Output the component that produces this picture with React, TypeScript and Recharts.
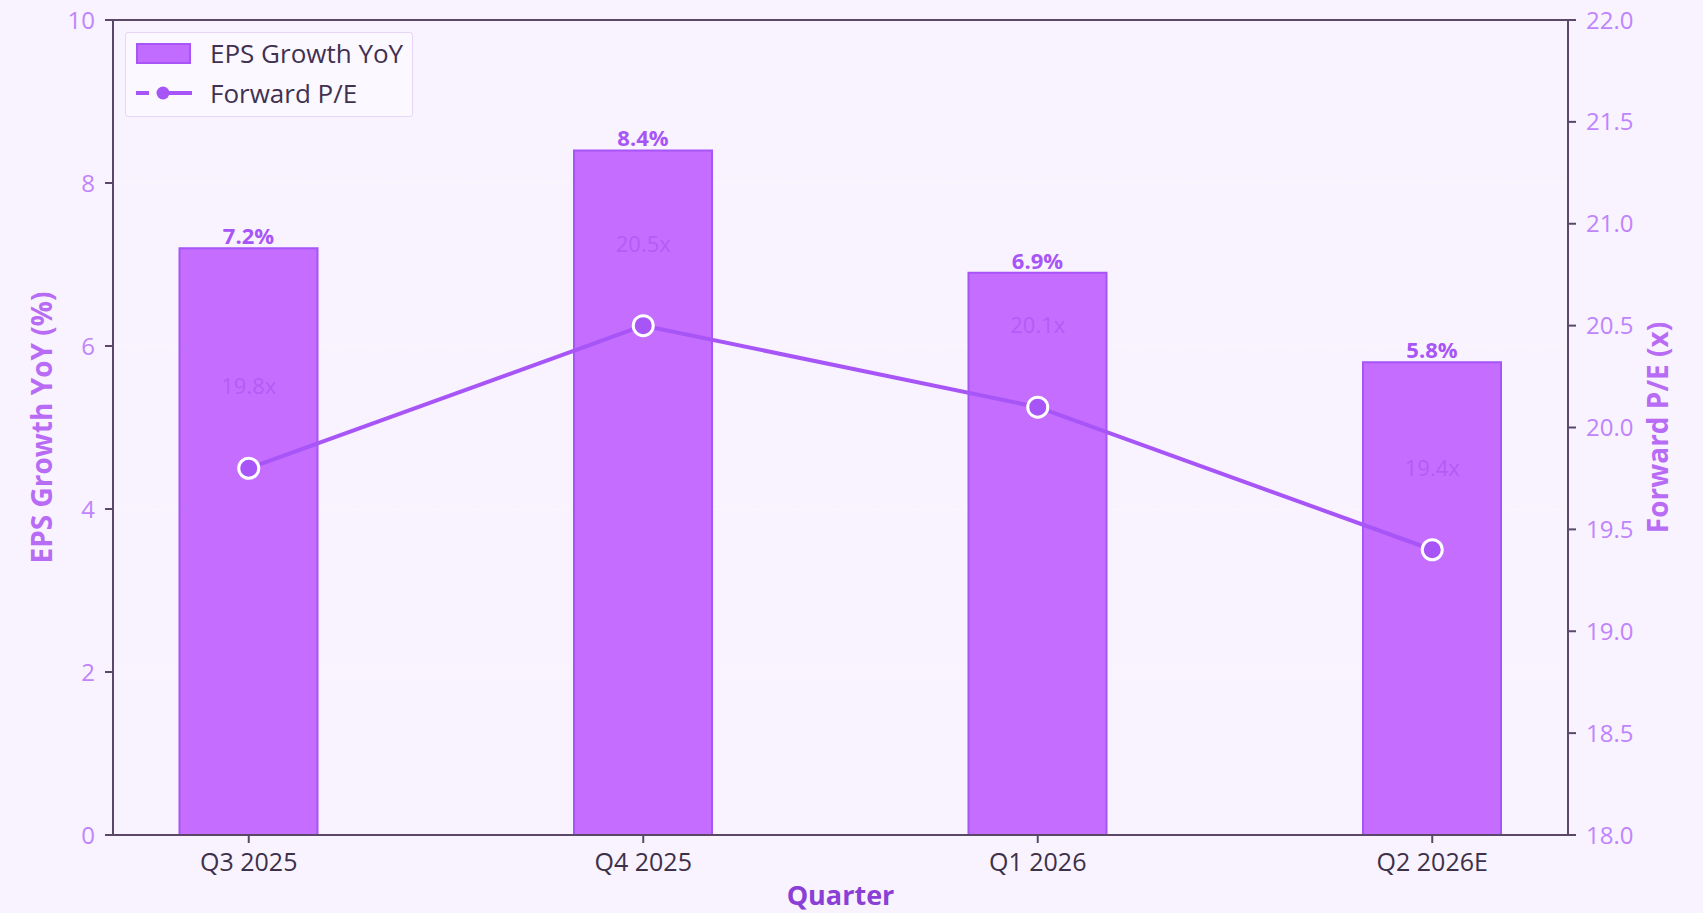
import {
  ComposedChart,
  CartesianGrid,
  XAxis,
  YAxis,
  Bar,
  Line,
  LabelList,
  Legend,
  ReferenceLine,
} from "recharts";

const quarters = ["Q3 2025", "Q4 2025", "Q1 2026", "Q2 2026E"];
const epsGrowth = [7.2, 8.4, 6.9, 5.8];
const forwardPE = [19.8, 20.5, 20.1, 19.4];
const leftTicks = [0, 2, 4, 6, 8, 10];
const rightTicks = [18, 18.5, 19, 19.5, 20, 20.5, 21, 21.5, 22];

const data = quarters.map((quarter, i) => ({
  quarter,
  eps: epsGrowth[i],
  pe: forwardPE[i],
}));

const BG = "#f8f3fe";
const AXIS = "#5b4868";
const PURPLE = "#a855f7";
const LIGHT = "#c084fc";
const FONT = "'Open Sans', sans-serif";

const LegendBox = () => (
  <div
    style={{
      width: 288,
      height: 85,
      boxSizing: "border-box",
      border: "1px solid #e6d6f7",
      borderRadius: 3,
      background: "rgba(252,249,255,0.8)",
      fontFamily: FONT,
      fontSize: 26,
      color: "#3f3150",
      position: "relative",
    }}
  >
    <div style={{ position: "absolute", left: 10, top: 10, width: 55, height: 21, background: "#c26cff", border: `2px solid ${PURPLE}`, boxSizing: "border-box" }} />
    <div style={{ position: "absolute", left: 84, top: 20, transform: "translateY(-50%)", whiteSpace: "nowrap" }}>EPS Growth YoY</div>
    <svg style={{ position: "absolute", left: 10, top: 50 }} width={56} height={20}>
      <line x1={0} y1={10} x2={56} y2={10} stroke={PURPLE} strokeWidth={4} strokeDasharray="13 17 26" />
      <circle cx={27} cy={10} r={6.5} fill={PURPLE} />
    </svg>
    <div style={{ position: "absolute", left: 84, top: 60, transform: "translateY(-50%)", whiteSpace: "nowrap" }}>Forward P/E</div>
  </div>
);

const PeLabel = (props: any) => {
  const { x, y, value } = props;
  return (
    <text
      x={x}
      y={y - 83}
      textAnchor="middle"
      dominantBaseline="central"
      fontSize={22}
      fontFamily={FONT}
      fill="#9b46ea"
      fillOpacity={0.45}
    >
      {`${value}x`}
    </text>
  );
};

const rotatedTitle = (text: string, dx: number) => (p: any) => {
  const cx = p.viewBox.x + dx;
  const cy = p.viewBox.y + p.viewBox.height / 2;
  return (
    <text
      x={cx}
      y={cy}
      transform={`rotate(-90 ${cx} ${cy})`}
      textAnchor="middle"
      dominantBaseline="central"
      fontSize={28}
      fontWeight="bold"
      fill="#b86cf5"
      fontFamily={FONT}
    >
      {text}
    </text>
  );
};

export default function App() {
  return (
    <div
      style={{
        position: "fixed",
        left: 0,
        top: 0,
        width: 1703,
        height: 913,
        background: BG,
      }}
    >
      <ComposedChart
        width={1703}
        height={913}
        data={data}
        margin={{ top: 20, right: 0, left: 0, bottom: 0 }}
        style={{ fontFamily: FONT }}
      >
        <CartesianGrid
          yAxisId="left"
          vertical={false}
          stroke="#ffffff"
          strokeOpacity={0.6}
          strokeDasharray="6 4"
        />
        <XAxis
          dataKey="quarter"
          height={78}
          padding={{ left: -61.5, right: -61.5 }}
          stroke={AXIS}
          strokeWidth={2}
          tickSize={8}
          tickMargin={10}
          tick={{ fill: "#3d3049", fontSize: 25, fontFamily: FONT }}
          label={{
            content: (p: any) => (
              <text
                x={p.viewBox.x + p.viewBox.width / 2}
                y={p.viewBox.y + 59}
                textAnchor="middle"
                dominantBaseline="central"
                fontSize={27}
                fontWeight="bold"
                fill="#8b3fd6"
                fontFamily={FONT}
              >
                Quarter
              </text>
            ),
          }}
        />
        <YAxis
          yAxisId="left"
          width={113}
          domain={[0, 10]}
          ticks={leftTicks}
          stroke={AXIS}
          strokeWidth={2}
          tickSize={8}
          tickMargin={10}
          tick={{ fill: LIGHT, fontSize: 24, fontFamily: FONT }}
          label={{ content: rotatedTitle("EPS Growth YoY (%)", 41) }}
        />
        <YAxis
          yAxisId="right"
          orientation="right"
          width={135}
          domain={[18, 22]}
          ticks={rightTicks}
          tickFormatter={(v: number) => v.toFixed(1)}
          stroke={AXIS}
          strokeWidth={2}
          tickSize={8}
          tickMargin={10}
          tick={{ fill: LIGHT, fontSize: 24, fontFamily: FONT }}
          label={{ content: rotatedTitle("Forward P/E (x)", 89) }}
        />
        <ReferenceLine yAxisId="left" y={10} stroke={AXIS} strokeWidth={2} />
        <Legend
          layout="vertical"
          align="center"
          verticalAlign="middle"
          content={() => <LegendBox />}
          wrapperStyle={{ left: 125, top: 32, width: 288, height: 85 }}
        />
        <Bar
          yAxisId="left"
          dataKey="eps"
          barSize={138}
          fill="#bf62ff"
          fillOpacity={0.92}
          stroke={PURPLE}
          strokeWidth={2}
          isAnimationActive={false}
        >
          <LabelList
            dataKey="eps"
            position="top"
            offset={4}
            formatter={(v: any) => `${v}%`}
            fill={PURPLE}
            fontSize={22}
            fontWeight="bold"
            fontFamily={FONT}
          />
        </Bar>
        <Line
          yAxisId="right"
          dataKey="pe"
          stroke={PURPLE}
          strokeWidth={4}
          dot={{ r: 10, fill: PURPLE, stroke: "#ffffff", strokeWidth: 3 }}
          isAnimationActive={false}
        >
          <LabelList dataKey="pe" content={PeLabel} />
        </Line>
      </ComposedChart>
    </div>
  );
}
